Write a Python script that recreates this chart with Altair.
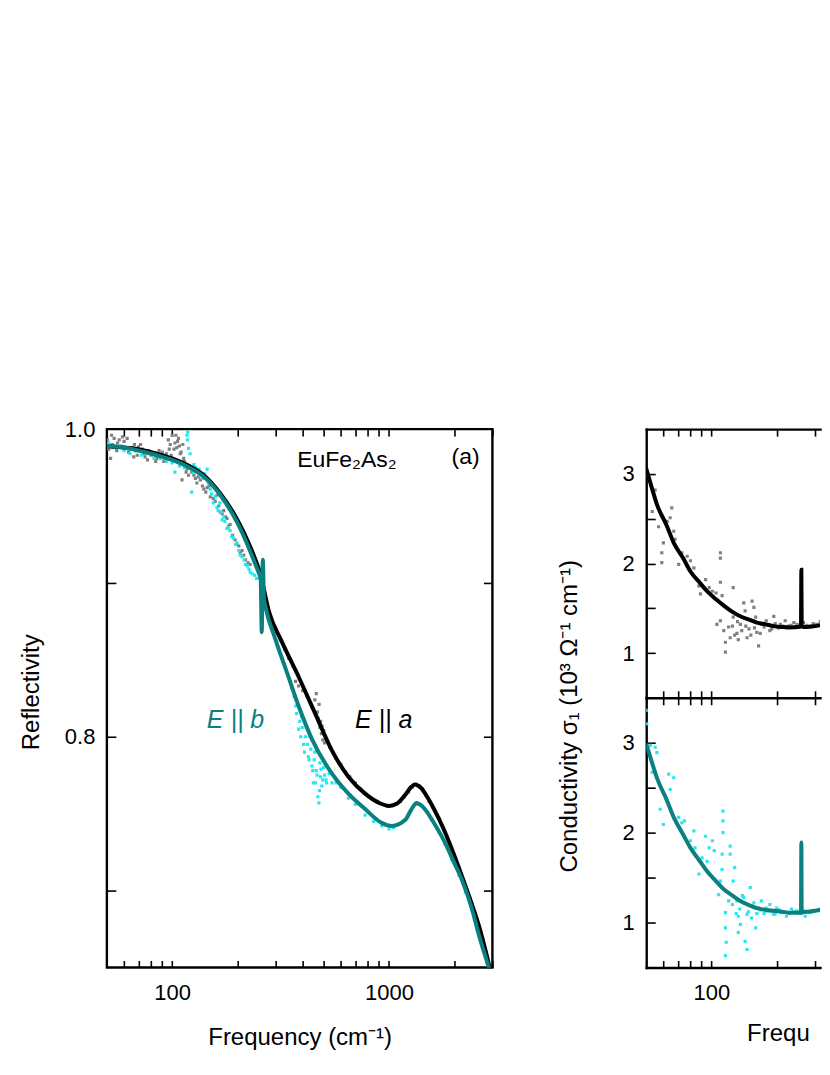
import altair as alt
import pandas as pd

# ---------------- data ----------------
# Panel (a): reflectivity, E || a (measured points, grey)
REFL_A_FREQ = [50.2, 51, 52, 53, 54, 55.5, 57, 59, 60, 61.5, 63, 65, 66.5, 68, 70, 71.5, 74, 77, 80, 82.5,
               85, 87, 89, 91.5, 94, 96, 98, 100, 103, 105, 107, 109, 111, 113, 115, 117, 120, 123, 126, 130,
               135, 140, 145, 150, 155, 161, 167, 173, 179, 185, 190, 199, 206, 210, 218, 229, 240, 250, 262, 270,
               280, 290, 300, 315, 330, 345, 360, 371, 383, 400, 420, 440, 455, 462, 468, 472, 476, 480, 484, 488,
               492, 496, 500, 505, 510, 520, 535, 550, 570, 600, 630, 660, 700, 740, 780, 830, 880, 930, 980, 1030,
               1080, 1130, 1180, 1230, 1280, 1330, 1380, 1430, 1480, 1530, 1600, 1700, 1800, 1900, 2000, 2100, 2200, 2300, 2400, 2500,
               2600, 2700, 2800, 2900,
               52.5, 56, 58, 62, 67, 69, 73, 75, 78, 84, 86, 90, 93, 97, 99, 102, 104, 106, 108, 110,
               112, 114, 116, 119, 122, 128, 132, 138, 143, 148, 158, 164, 170, 176, 182, 195, 203, 214, 224]
REFL_A_VAL = [0.993, 0.987, 0.981, 0.990, 0.994, 0.986, 0.993, 0.995, 0.992, 0.988, 0.985, 0.988, 0.982, 0.986, 0.9885, 0.990, 0.984, 0.980, 0.983, 0.984,
              0.981, 0.986, 0.982, 0.979, 0.984, 0.993, 0.990, 0.996, 0.991, 0.988, 0.994, 0.984, 0.967, 0.981, 0.977, 0.974, 0.976, 0.972, 0.970, 0.965,
              0.967, 0.961, 0.962, 0.956, 0.955, 0.957, 0.946, 0.947, 0.942, 0.938, 0.931, 0.925, 0.920, 0.921, 0.915, 0.912, 0.915, 0.909, 0.898, 0.889,
              0.881, 0.875, 0.870, 0.863, 0.857, 0.851, 0.846, 0.836, 0.833, 0.830, 0.826, 0.820, 0.824, 0.828, 0.816, 0.812, 0.821, 0.806, 0.810, 0.802,
              0.807, 0.798, 0.804, 0.796, 0.800, 0.797, 0.793, 0.790, 0.786, 0.782, 0.777, 0.774, 0.770, 0.766, 0.763, 0.760, 0.758, 0.756, 0.755, 0.755,
              0.756, 0.758, 0.761, 0.764, 0.767, 0.769, 0.768, 0.766, 0.762, 0.758, 0.754, 0.747, 0.739, 0.731, 0.723, 0.715, 0.707, 0.700, 0.692, 0.685,
              0.677, 0.669, 0.660, 0.651,
              0.996, 0.991, 0.989, 0.994, 0.990, 0.983, 0.987, 0.982, 0.986, 0.979, 0.983, 0.985, 0.981, 0.987, 0.983, 0.987, 0.996, 0.992, 0.989, 0.985,
              0.990, 0.979, 0.972, 0.970, 0.975, 0.968, 0.969, 0.963, 0.959, 0.963, 0.953, 0.950, 0.945, 0.943, 0.937, 0.928, 0.924, 0.918, 0.913]

# Panel (a): reflectivity, E || b (measured points, cyan)
REFL_B_FREQ = [50.5, 51, 53, 56, 60, 64, 68, 72, 76, 82.5, 88, 94, 100, 103, 108, 114, 117, 117.5, 118, 119,
               123, 126, 130, 133, 138, 145, 150, 155, 161, 166, 170, 175, 179, 185, 192, 199, 206, 215, 222, 229,
               240, 250, 270, 285, 300, 320, 340, 355, 371, 383, 395, 404, 415, 425, 432, 441, 448, 455, 462, 470,
               475, 480, 483, 490, 500, 516, 530, 546, 570, 600, 650, 700, 776, 850, 926, 1000, 1050, 1100, 1190, 1260,
               1340, 1420, 1500, 1580, 1700, 1815, 1950, 2100, 2250, 2414, 2600, 2750, 2890,
               121, 125, 128, 135, 141, 147, 152, 158, 163, 168, 173, 182, 188, 196, 203, 210, 218, 226, 234, 245,
               365, 375, 388, 392, 398, 408, 412, 420, 428, 436, 445, 452, 458, 466, 478, 486, 495, 505, 512]
REFL_B_VAL = [0.990, 0.991, 0.988, 0.989, 0.986, 0.984, 0.986, 0.983, 0.984, 0.981, 0.981, 0.979, 0.978, 0.972, 0.976, 0.975, 0.996, 0.993, 0.998, 0.9875,
              0.959, 0.977, 0.973, 0.974, 0.968, 0.974, 0.961, 0.952, 0.949, 0.952, 0.941, 0.940, 0.9355, 0.934, 0.929, 0.926, 0.918, 0.915, 0.911, 0.907,
              0.905, 0.903, 0.884, 0.873, 0.863, 0.852, 0.841, 0.832, 0.820, 0.805, 0.813, 0.795, 0.806, 0.787, 0.800, 0.781, 0.770, 0.790, 0.778, 0.761,
              0.757, 0.783, 0.774, 0.768, 0.780, 0.770, 0.776, 0.770, 0.770, 0.767, 0.760, 0.756, 0.749, 0.745, 0.742, 0.740, 0.741, 0.743, 0.746, 0.752,
              0.756, 0.755, 0.751, 0.746, 0.738, 0.730, 0.720, 0.710, 0.699, 0.688, 0.672, 0.660, 0.650,
              0.984, 0.972, 0.975, 0.970, 0.971, 0.965, 0.958, 0.956, 0.947, 0.946, 0.943, 0.936, 0.930, 0.925, 0.921, 0.917, 0.912, 0.909, 0.906, 0.903,
              0.826, 0.815, 0.810, 0.800, 0.806, 0.790, 0.800, 0.795, 0.785, 0.792, 0.778, 0.785, 0.770, 0.775, 0.765, 0.779, 0.772, 0.775, 0.772]

# Panel (a): fits
FIT_RA_FREQ = [50, 60, 70, 80, 90, 100, 120, 140, 167, 200, 230, 256, 280, 320, 383, 457, 546, 650, 776, 900,
               1000, 1100, 1200, 1260, 1320, 1400, 1500, 1600, 1800, 2000, 2200, 2400, 2600, 2800, 3000]
FIT_RA_VAL = [0.989, 0.988, 0.987, 0.985, 0.983, 0.981, 0.976, 0.970, 0.958, 0.941, 0.923, 0.905, 0.881, 0.862, 0.839, 0.815, 0.791, 0.774, 0.763, 0.757,
              0.755, 0.757, 0.763, 0.767, 0.769, 0.767, 0.761, 0.754, 0.739, 0.723, 0.707, 0.692, 0.677, 0.660, 0.642]
FIT_RB_FREQ = [50, 60, 70, 80, 90, 100, 120, 140, 167, 200, 230, 250, 256, 259, 262, 265, 269, 300, 340, 383,
               443, 546, 650, 776, 926, 1030, 1190, 1260, 1340, 1420, 1500, 1580, 1815, 2000, 2170, 2414, 2600, 2890, 3000]
FIT_RB_VAL = [0.989, 0.988, 0.986, 0.984, 0.982, 0.980, 0.975, 0.969, 0.957, 0.939, 0.920, 0.907, 0.903, 0.868, 0.915, 0.890, 0.885, 0.863, 0.841, 0.820,
              0.798, 0.776, 0.763, 0.753, 0.744, 0.742, 0.746, 0.752, 0.757, 0.755, 0.751, 0.746, 0.731, 0.718, 0.707, 0.688, 0.671, 0.650, 0.643]

# Panel (b): conductivity (10^3 / Ohm cm), E || a (grey points)
SIG_A_FREQ = [50.5, 53.3, 55, 57, 59, 59, 60, 62.5, 64.5, 65.6, 67, 68, 70.6, 73, 77.3, 80, 83, 87.5, 89, 94,
              97.6, 101, 105, 106, 110, 110, 110, 110, 112, 114, 116, 116, 120, 122, 126, 126, 131, 133, 136, 141,
              143, 146, 149, 154, 157, 160, 162, 165, 170, 179, 186, 194, 200, 208, 219, 227, 240, 248, 266, 285,
              306, 329, 348, 125, 128, 132, 138, 144, 152, 158, 168, 175, 183, 190, 197, 204, 214, 223, 233, 244,
              255, 275, 295, 318, 340]
SIG_A_VAL = [2.99, 2.58, 2.82, 2.41, 2.12, 2.01, 2.23, 2.47, 2.51, 2.62, 2.36, 2.27, 1.99, 2.12, 2.08, 2.03, 1.95, 1.75, 1.66, 1.82,
             1.73, 1.69, 1.67, 1.32, 2.12, 2.06, 1.79, 1.36, 1.64, 1.25, 1.12, 1.01, 1.29, 1.17, 1.73, 1.40, 1.22, 1.15, 1.32, 1.56,
             1.47, 1.17, 1.27, 1.58, 1.51, 1.40, 1.23, 1.08, 1.32, 1.36, 1.25, 1.41, 1.29, 1.32, 1.36, 1.30, 1.34, 1.32, 1.34, 1.30,
             1.32, 1.34, 1.36, 1.30, 1.20, 1.35, 1.25, 1.30, 1.20, 1.28, 1.22, 1.29, 1.31, 1.27, 1.33, 1.28, 1.30, 1.28, 1.31, 1.29,
             1.31, 1.31, 1.33, 1.35, 1.35]
# Panel (b): conductivity, E || b (cyan points)
SIG_B_FREQ = [50, 50.3, 52.3, 55, 56, 53.3, 58, 60, 63.5, 64.5, 67, 70.6, 73, 75, 80, 83, 84, 87.5, 90.5, 94,
              95.5, 97.6, 101, 103, 108, 110, 112, 112, 113, 113, 113, 116, 116, 117, 116, 120, 122, 122, 126, 128,
              131, 133, 136, 133, 141, 146, 143, 146, 151, 157, 160, 165, 170, 179, 186, 194, 200, 211, 222, 234,
              248, 271, 285, 306, 329, 348, 125, 130, 135, 139, 148, 153, 155, 162, 168, 175, 182, 190, 197, 205,
              216, 228, 240, 255, 265, 295, 318, 340]
SIG_B_VAL = [3.36, 3.21, 2.97, 2.95, 2.89, 2.67, 2.26, 2.09, 2.65, 2.48, 2.61, 2.17, 2.11, 2.13, 1.91, 2.02, 1.83, 1.54, 1.72, 1.96,
             1.68, 1.83, 1.91, 1.80, 1.31, 1.46, 1.59, 1.76, 2.24, 2.13, 2.00, 1.11, 0.94, 0.78, 0.63, 1.24, 1.85, 1.76, 1.46, 1.61,
             1.24, 1.07, 0.98, 0.89, 1.28, 1.09, 0.79, 0.70, 1.39, 1.22, 0.94, 1.16, 1.24, 1.16, 1.20, 1.09, 1.16, 1.11, 1.07, 1.15,
             1.13, 1.07, 1.11, 1.13, 1.09, 1.15, 1.20, 1.10, 1.15, 1.30, 1.12, 1.05, 1.18, 1.10, 1.14, 1.10, 1.13, 1.12, 1.10, 1.14,
             1.12, 1.10, 1.12, 1.10, 1.13, 1.12, 1.13, 1.16]
# Panel (b): fits
FIT_SA_FREQ = [50, 53, 56, 62, 67, 74, 80, 88, 95.5, 105, 114, 125, 136, 150, 162, 178, 194, 212, 231, 252,
               259, 260, 261, 266, 276, 300, 329, 353, 380, 420]
FIT_SA_VAL = [3.06, 2.85, 2.66, 2.43, 2.23, 2.06, 1.91, 1.79, 1.69, 1.60, 1.53, 1.46, 1.41, 1.37, 1.34, 1.32, 1.30, 1.29, 1.285, 1.29,
              1.295, 1.93, 1.30, 1.29, 1.29, 1.30, 1.32, 1.36, 1.40, 1.47]
FIT_SB_FREQ = [50, 53, 56.2, 62, 67, 74, 80, 88, 95.5, 105, 114, 125, 136, 150, 162, 178, 194, 212, 231, 252,
               259, 260, 261, 266, 276, 300, 329, 353, 380, 420]
FIT_SB_VAL = [2.99, 2.79, 2.60, 2.37, 2.17, 1.98, 1.83, 1.69, 1.57, 1.46, 1.37, 1.30, 1.24, 1.19, 1.16, 1.14, 1.13, 1.12, 1.11, 1.11,
              1.11, 1.89, 1.11, 1.115, 1.12, 1.13, 1.15, 1.165, 1.19, 1.23]

# annotations of panel (a)
NOTE_TEXT = ["EuFe\u2082As\u2082", "(a)"]
NOTE_FREQ = [640, 2255]
NOTE_VAL = [0.980, 0.982]
EA_TEXT, EA_FREQ, EA_VAL = ["E  ||  a"], [945], [0.811]
EB_TEXT, EB_FREQ, EB_VAL = ["E  ||  b"], [196], [0.811]

X_LABELS = [100, 1000]
X_TICKS_A = [60, 70, 80, 90, 100, 200, 300, 400, 500, 600, 700, 800, 900, 1000, 2000, 3000]
X_TICKS_B = [60, 70, 80, 90, 100, 200, 300]
R_LABELS = [0.8, 1.0]
R_TICKS = [0.7, 0.8, 0.9]
S_LABELS = [1, 2, 3]
S_TICKS = [1, 1.5, 2, 2.5, 3]

# ---------------- styling ----------------
FONT = "Liberation Sans"
GREY, CYAN, TEAL = "#808080", "#22e8f0", "#0b8080"
W, H = 386, 539            # panel (a)
WB, HT, HB = 174, 269, 270  # panel (b): only its left part is inside the picture
XDOM_A = [50, 3000]
XDOM_B = [50, 317]
XTITLE = "Frequency (cm\u207b\u00b9)"
STITLE = "Conductivity \u03c3\u2081 (10\u00b3 \u03a9\u207b\u00b9 cm\u207b\u00b9)"
FRAME = 2.4


def df(f, v):
    return pd.DataFrame({"f": f, "v": v})


def xs(dom):
    return alt.Scale(type="log", domain=dom, nice=False)


def tick_axis(orient, offset, values, size, domain=False):
    kw = dict(orient=orient, offset=offset, values=values, labels=False, title=None,
              domain=domain, grid=False, tickSize=size, tickWidth=1.6, tickColor="black")
    if domain:
        kw.update(domainColor="black", domainWidth=FRAME, domainCap="square")
    return alt.Axis(**kw)


def x_label_axis(title, title_pad, domain=False):
    kw = dict(orient="bottom", values=X_LABELS, format="d", ticks=False, domain=domain, grid=False,
              labelFontSize=22, labelPadding=15, labelFlush=False, labelColor="black")
    if domain:
        kw.update(domainColor="black", domainWidth=FRAME, domainCap="square")
    if title:
        kw.update(title=title, titleFontSize=24, titleFontWeight="normal", titlePadding=title_pad,
                  titleColor="black")
    else:
        kw.update(title=None)
    return alt.Axis(**kw)


def y_label_axis(values, fmt, title, title_y, title_pad, lpad, domain=False):
    kw = dict(orient="left", values=values, format=fmt, ticks=False, domain=domain, grid=False,
              labelFontSize=22, labelPadding=lpad, labelColor="black")
    if domain:
        kw.update(domainColor="black", domainWidth=FRAME, domainCap="square")
    if title:
        kw.update(title=title, titleFontSize=24, titleFontWeight="normal", titlePadding=title_pad,
                  titleY=title_y, titleColor="black")
    else:
        kw.update(title=None)
    return alt.Axis(**kw)


def carrier(data, dom, xaxis, yaxis, yscale):
    return alt.Chart(data).mark_point(opacity=0, clip=True).encode(
        x=alt.X("f:Q", scale=xs(dom), axis=xaxis),
        y=alt.Y("v:Q", scale=yscale, axis=yaxis),
    )


def points(data, dom, color, yscale):
    return alt.Chart(data).mark_square(size=10, color=color, opacity=1, clip=True).encode(
        x=alt.X("f:Q", scale=xs(dom), axis=None),
        y=alt.Y("v:Q", scale=yscale, axis=None),
    )


def fitline(data, dom, color, yscale):
    return alt.Chart(data).mark_line(color=color, strokeWidth=4, clip=True, interpolate="monotone").encode(
        x=alt.X("f:Q", scale=xs(dom), axis=None),
        y=alt.Y("v:Q", scale=yscale, axis=None),
    )


def note(texts, fs, vs, color, style, yscale, size):
    d = pd.DataFrame({"f": fs, "v": vs, "t": texts})
    return alt.Chart(d).mark_text(font=FONT, fontSize=size, color=color, fontStyle=style,
                                  align="center", baseline="middle").encode(
        x=alt.X("f:Q", scale=xs(XDOM_A), axis=None),
        y=alt.Y("v:Q", scale=yscale, axis=None),
        text="t:N",
    )


# ---------------- panel (a) ----------------
ry = alt.Scale(domain=[0.65, 1.0], nice=False, zero=False)
ra = df(REFL_A_FREQ, REFL_A_VAL)
rb = df(REFL_B_FREQ, REFL_B_VAL)
left = alt.layer(
    carrier(ra, XDOM_A, x_label_axis(XTITLE, 22), y_label_axis(R_LABELS, ".1f", "Reflectivity", 263, 21, 12), ry),
    carrier(ra, XDOM_A, tick_axis("top", -H, X_TICKS_A, 7), tick_axis("right", -W, R_TICKS, 9), ry),
    carrier(ra, XDOM_A, tick_axis("bottom", -H, X_TICKS_A, 7), tick_axis("left", -W, R_TICKS, 9), ry),
    points(ra, XDOM_A, GREY, ry),
    points(rb, XDOM_A, CYAN, ry),
    fitline(df(FIT_RA_FREQ, FIT_RA_VAL), XDOM_A, "black", ry),
    fitline(df(FIT_RB_FREQ, FIT_RB_VAL), XDOM_A, TEAL, ry),
    note(NOTE_TEXT, NOTE_FREQ, NOTE_VAL, "black", "normal", ry, 23),
    note(EA_TEXT, EA_FREQ, EA_VAL, "black", "italic", ry, 25),
    note(EB_TEXT, EB_FREQ, EB_VAL, TEAL, "italic", ry, 25),
).resolve_axis(x="independent", y="independent").properties(width=W, height=H)

# ---------------- panel (b) ----------------
sy = alt.Scale(domain=[0.5, 3.5], nice=False, zero=False)
sa = df(SIG_A_FREQ, SIG_A_VAL)
sb = df(SIG_B_FREQ, SIG_B_VAL)
no_frame = alt.ViewBackground(stroke="transparent")

top = alt.layer(
    carrier(sa, XDOM_B, tick_axis("bottom", -HT, X_TICKS_B, 7, domain=True),
            y_label_axis(S_LABELS, "d", STITLE, 287, 41, 12, domain=True), sy),
    carrier(sa, XDOM_B, tick_axis("bottom", 0, X_TICKS_B, 7, domain=True),
            tick_axis("right", -WB, S_TICKS, 9), sy),
    carrier(sa, XDOM_B, tick_axis("top", -HT, X_TICKS_B, 7), None, sy),
    points(sa, XDOM_B, GREY, sy),
    fitline(df(FIT_SA_FREQ, FIT_SA_VAL), XDOM_B, "black", sy),
).resolve_axis(x="independent", y="independent").properties(width=WB, height=HT, view=no_frame)

xtitle_b = alt.Chart(pd.DataFrame({"t": [XTITLE]})).mark_text(
    font=FONT, fontSize=24, color="black", align="left", baseline="top", limit=WB - 101, ellipsis="\u200b"
).encode(x=alt.value(101), y=alt.value(HB + 55), text="t:N")

bottom = alt.layer(
    carrier(sb, XDOM_B, x_label_axis(None, 0, domain=True),
            y_label_axis(S_LABELS, "d", None, 0, 0, 12, domain=True), sy),
    carrier(sb, XDOM_B, tick_axis("top", -HB, X_TICKS_B, 7), tick_axis("right", -WB, S_TICKS, 9), sy),
    points(sb, XDOM_B, CYAN, sy),
    fitline(df(FIT_SB_FREQ, FIT_SB_VAL), XDOM_B, TEAL, sy),
    xtitle_b,
).resolve_axis(x="independent", y="independent").properties(width=WB, height=HB, view=no_frame)

right = alt.vconcat(top, bottom, spacing=0, bounds="flush")

chart = alt.hconcat(left, right, spacing=61).properties(
    padding={"left": 10, "top": 408, "right": 0, "bottom": 0}
).configure_view(stroke="black", strokeWidth=FRAME).configure_axis(
    labelFont=FONT, titleFont=FONT
)

chart.save("out.html", embed_options={"renderer": "svg", "actions": False})
